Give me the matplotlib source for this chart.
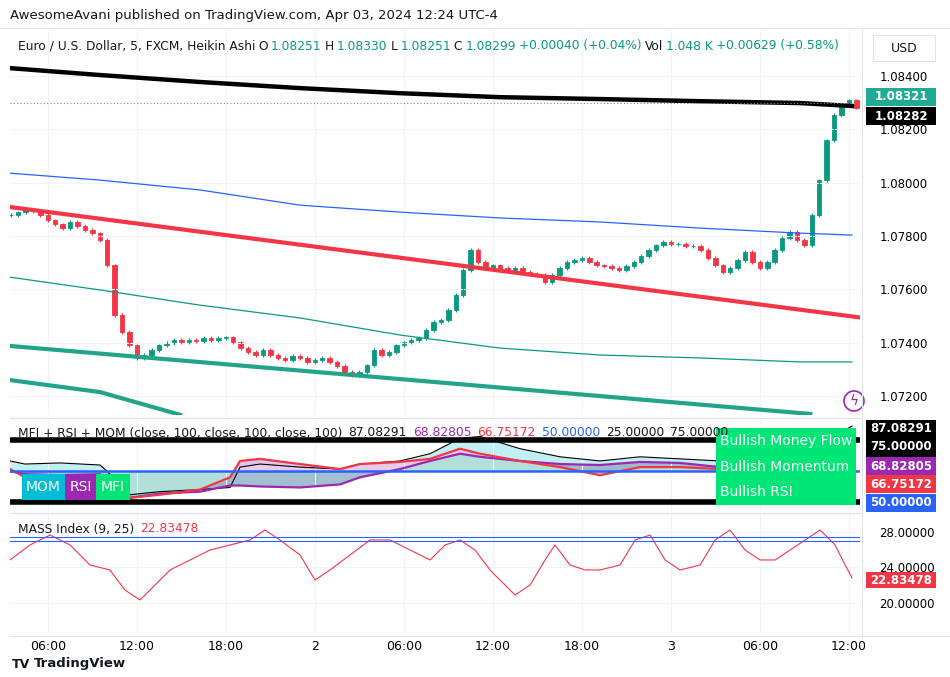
import matplotlib.pyplot as plt
import numpy as np
from matplotlib.patches import Rectangle, Circle

# ---- data (hours since Apr 1 00:00) ----
t0 = 3.5
closes = [1.07879, 1.0789, 1.07898, 1.07894, 1.07879, 1.0786, 1.07845, 1.0783, 1.07853, 1.07838,
          1.07823, 1.07811, 1.07785, 1.07691, 1.07504, 1.0744, 1.07391, 1.07343, 1.07354, 1.07373,
          1.07391, 1.07399, 1.0741, 1.07402, 1.0741, 1.07406, 1.07418, 1.0741, 1.07418, 1.07421,
          1.07402, 1.0738, 1.07365, 1.07354, 1.07373, 1.07354, 1.07343, 1.07335, 1.0735, 1.07343,
          1.07328, 1.07335, 1.07343, 1.07328, 1.07313, 1.0729, 1.07279, 1.0729, 1.07316, 1.07373,
          1.07354, 1.07365, 1.07391, 1.07402, 1.0741, 1.07418, 1.07448, 1.07478, 1.07485, 1.07523,
          1.07579, 1.07673, 1.07748, 1.07703, 1.0768, 1.07691, 1.0768, 1.07673, 1.0768, 1.07665,
          1.07658, 1.07654, 1.07628, 1.07654, 1.0768, 1.07703, 1.0771, 1.07718, 1.07703, 1.07691,
          1.07688, 1.0768, 1.07673, 1.07688, 1.07703, 1.07725, 1.07748, 1.07766, 1.07778, 1.0777,
          1.0777, 1.07763, 1.07763, 1.07748, 1.07718, 1.07691, 1.07665, 1.0768, 1.0771, 1.0774,
          1.07703, 1.0768, 1.07703, 1.07748, 1.07793, 1.07815, 1.07785, 1.07766, 1.07879, 1.0801,
          1.0816, 1.08254, 1.08291, 1.0831, 1.08282]

ma_t = [3.45, 9.52, 16.26, 23.0, 29.74, 36.48, 43.22, 49.97, 56.71, 60.21]
ma_black = [1.0843, 1.08404, 1.08378, 1.08355, 1.08336, 1.08321, 1.08314, 1.08306, 1.08299, 1.08288]
ma_blue = [1.08036, 1.0801, 1.07973, 1.07916, 1.0789, 1.07868, 1.07853, 1.0783, 1.07811, 1.07804]
ma_green = [1.07646, 1.07598, 1.07541, 1.07493, 1.07429, 1.0738, 1.07354, 1.07343, 1.07328, 1.07328]
red_chan_t = [3.45, 61.0]
red_chan = [1.07909, 1.07493]
teal_chan_t = [3.45, 57.4]
teal_chan = [1.07388, 1.07133]
teal_curve_t = [3.45, 9.52, 14.9]
teal_curve = [1.0726, 1.07215, 1.0713]

ind_t = [3.45, 4.46, 6.82, 9.52, 9.99, 11.54, 13.56, 16.26, 18.28, 18.96, 20.3, 23.0, 25.7, 27.05,
         29.74, 31.76, 33.79, 35.13, 37.83, 40.53, 43.22, 45.92, 48.62, 51.31, 54.01, 56.71, 60.21]
mfi = [58.3, 55.8, 56.7, 55, 50, 30.8, 33.3, 35, 36.7, 53.3, 55.8, 53.3, 51.7, 55.8, 58.3, 64.2,
       76.7, 78.3, 68.3, 61.7, 58.3, 61.7, 60, 58.3, 60, 64.0, 86.7]
rsi = [51.7, 45, 43.3, 43.3, 41.7, 28.3, 30.8, 35, 45, 58.3, 60, 55.8, 51.7, 55.8, 57.5, 60, 68.3,
       64.2, 58.3, 53.3, 46.7, 53.3, 53.3, 51.7, 51.7, 55, 66.7]
mom = [50, 47.5, 46.7, 47.5, 43.3, 28.3, 31.7, 33.3, 38.3, 38.3, 37.5, 36.7, 39.2, 45, 51.7, 58.3,
       64.2, 61.7, 58.3, 55.8, 55, 57.5, 56.7, 53.3, 53.3, 56.7, 68.8]

mass_t = [3.45, 4.8, 6.15, 7.5, 8.84, 10.19, 11.2, 12.21, 12.89, 14.24, 15.59, 16.93, 18.28, 19.63,
          20.64, 21.65, 23.0, 24.01, 25.02, 26.37, 27.72, 29.07, 30.42, 31.77, 32.78, 33.79, 34.8,
          35.81, 36.82, 37.5, 38.51, 39.52, 40.19, 41.2, 42.22, 43.23, 44.57, 45.59, 46.6, 47.61,
          48.62, 49.97, 50.98, 51.99, 53.0, 54.01, 55.03, 56.04, 57.05, 58.06, 59.07, 59.75, 60.21]
mass = [24.85, 26.54, 27.66, 26.54, 24.28, 23.72, 21.46, 20.34, 21.46, 23.72, 24.85, 25.97, 26.54,
        27.10, 28.23, 27.10, 25.41, 22.59, 23.72, 25.41, 27.10, 27.10, 25.97, 24.85, 26.54, 27.10,
        25.97, 23.72, 22.03, 20.90, 22.03, 24.85, 26.54, 24.28, 23.72, 23.72, 24.28, 27.10, 27.66,
        24.85, 23.72, 24.28, 27.10, 28.23, 25.97, 24.85, 24.85, 25.97, 27.10, 28.23, 26.54, 24.28, 22.83]

tick_hours = [6, 12, 18, 24, 30, 36, 42, 48, 54, 60]
tick_labels = ["06:00", "12:00", "18:00", "2", "06:00", "12:00", "18:00", "3", "06:00", "12:00"]
price_ticks = [1.072, 1.074, 1.076, 1.078, 1.080, 1.082, 1.084]

UP, DN = "#089981", "#f23645"
GRID = "#f0f3fa"
W, H = 950, 677

fig = plt.figure(figsize=(9.5, 6.77), dpi=100)
fig.patch.set_facecolor("white")


def rect(x0, y0, x1, y1):
    return [x0 / W, 1 - y1 / H, (x1 - x0) / W, (y1 - y0) / H]


ax1 = fig.add_axes(rect(10, 30, 860, 415))
ax2 = fig.add_axes(rect(10, 420, 860, 512), sharex=ax1)
ax3 = fig.add_axes(rect(10, 514, 860, 632), sharex=ax1)
for ax in (ax1, ax2, ax3):
    for s in ax.spines.values():
        s.set_visible(False)
    ax.set_xticks(tick_hours)
    ax.grid(True, color=GRID, lw=0.8)
    ax.tick_params(length=0, labelbottom=False, labelleft=False, labelright=True,
                   labelsize=8.5, pad=14)
    ax.yaxis.tick_right()
ax1.set_xlim(3.45, 60.75)
ax3.tick_params(labelbottom=True)
ax3.set_xticklabels(tick_labels)
ax3.tick_params(axis="x", pad=6, labelsize=9)

# ---- main panel ----
c = np.array(closes)
tt = t0 + 0.5 * np.arange(len(c))
o = np.r_[c[0], c[:-1]]
cols = [UP if cc >= oo else DN for cc, oo in zip(c, o)]
ax1.vlines(tt, np.minimum(o, c) - 0.00006, np.maximum(o, c) + 0.00006, color=cols, lw=0.8)
ax1.bar(tt, c - o, bottom=o, width=0.3, color=cols, edgecolor=cols, lw=0.6)
ax1.plot(ma_t, ma_black, color="black", lw=3.2)
ax1.plot(ma_t, ma_blue, color="#2962ff", lw=0.9)
ax1.plot(ma_t, ma_green, color="#089981", lw=0.9)
ax1.plot(red_chan_t, red_chan, color="#f23645", lw=3)
ax1.plot(teal_chan_t, teal_chan, color="#22a38a", lw=3)
ax1.plot(teal_curve_t, teal_curve, color="#22a38a", lw=3)
ax1.axhline(1.08299, color="#888888", lw=0.8, ls=(0, (1, 2)))
ax1.set_ylim(1.07129, 1.08573)
ax1.set_yticks(price_ticks)
ax1.set_yticklabels([f"{p:.5f}" for p in price_ticks])

# ---- MFI/RSI/MOM panel ----
ax2.set_ylim(16.7, 91.7)
ax2.set_yticks([])
ax2.fill_between(ind_t, mfi, rsi, color="#b2ebf2", alpha=0.8, lw=0)
ax2.fill_between(ind_t, rsi, mom, color="#e1bee7", alpha=0.8, lw=0)
ax2.fill_between(ind_t, mom, 50, color="#26a69a", alpha=0.35, lw=0)
ax2.plot(ind_t, mfi, color="black", lw=0.8)
ax2.plot(ind_t, mom, color="#9c27b0", lw=1.6)
ax2.plot(ind_t, rsi, color="#f23645", lw=1.6)
ax2.axhline(75, color="black", lw=4)
ax2.axhline(25, color="black", lw=4)
ax2.axhline(50, color="#2962ff", lw=1.8)

# ---- MASS panel ----
ax3.set_ylim(16.73, 30.03)
ax3.set_yticks([20, 24, 28])
ax3.set_yticklabels(["20.00000", "24.00000", "28.00000"])
ax3.plot(mass_t, mass, color="#f23645", lw=0.8)
ax3.axhline(27.4, color="#2962ff", lw=0.8)
ax3.axhline(27.0, color="#2962ff", lw=0.8)

# ---- overlays in pixel coords ----
ov = fig.add_axes([0, 0, 1, 1], zorder=10)
ov.set_xlim(0, W)
ov.set_ylim(H, 0)
ov.axis("off")
ov.plot([0, W], [28, 28], color="#e0e3eb", lw=0.8)
ov.plot([862, 862], [28, 636], color="#e0e3eb", lw=0.8)
ov.plot([10, 862], [418, 418], color="#e0e3eb", lw=1)
ov.plot([10, 862], [513, 513], color="#e0e3eb", lw=1)
ov.plot([10, 950], [636, 636], color="#e0e3eb", lw=0.8)

ov.text(10, 16, "AwesomeAvani published on TradingView.com, Apr 03, 2024 12:24 UTC-4",
        fontsize=9.5, va="center", color="#131722")
ov.add_patch(Rectangle((873, 35), 62, 26, fc="white", ec="#e0e3eb", lw=0.8))
ov.text(904, 48, "USD", fontsize=9, ha="center", va="center", color="#131722")

rend = fig.canvas.get_renderer()


def seq_text(x, y, parts, size=8.8, gap=6):
    for s, col in parts:
        t = ov.text(x, y, s, fontsize=size, color=col, va="center")
        bb = t.get_window_extent(rend)
        x += bb.width + gap


G = "#089981"
seq_text(18, 46, [("Euro / U.S. Dollar, 5, FXCM, Heikin Ashi", "#131722"), ("O", "#131722"),
                  ("1.08251", G), ("H", "#131722"), ("1.08330", G), ("L", "#131722"), ("1.08251", G),
                  ("C", "#131722"), ("1.08299", G), ("+0.00040 (+0.04%)", G), ("Vol", "#131722"),
                  ("1.048 K", G), ("+0.00629 (+0.58%)", G)], gap=3)
seq_text(18, 433, [("MFI + RSI + MOM (close, 100, close, 100, close, 100)", "#131722"),
                   ("87.08291", "#131722"), ("68.82805", "#9c27b0"), ("66.75172", "#f23645"),
                   ("50.00000", "#2962ff"), ("25.00000", "#131722"), ("75.00000", "#131722")])
seq_text(18, 529, [("MASS Index (9, 25)", "#131722"), ("22.83478", "#f23645")])


def tag(y, s, fc, h=18):
    ov.add_patch(Rectangle((866, y - h / 2), 70, h, fc=fc, ec="none"))
    ov.text(901, y, s, fontsize=8.5, color="white", ha="center", va="center", weight="bold")


tag(97, "1.08321", "#22ab94")
tag(116, "1.08282", "black")
ov.add_patch(Rectangle((866, 420), 70, 37, fc="black", ec="none"))
ov.text(901, 429, "87.08291", fontsize=8.5, color="white", ha="center", va="center", weight="bold")
ov.text(901, 447, "75.00000", fontsize=8.5, color="white", ha="center", va="center", weight="bold")
tag(466, "68.82805", "#9c27b0")
tag(484, "66.75172", "#f23645")
tag(503, "50.00000", "#2962ff")
tag(580, "22.83478", "#f23645", h=16)

# status boxes
ov.add_patch(Rectangle((716, 428), 140, 77, fc="#00e676", ec="none"))
for yy, s in [(441, "Bullish Money Flow"), (467, "Bullish Momentum"), (492, "Bullish RSI")]:
    ov.text(720, yy, s, fontsize=10, color="white", va="center")
for x0, x1, fc, s in [(22, 65, "#00bcd4", "MOM"), (65, 96, "#9c27b0", "RSI"), (96, 130, "#00e676", "MFI")]:
    ov.add_patch(Rectangle((x0, 474), x1 - x0, 26, fc=fc, ec="none"))
    ov.text((x0 + x1) / 2, 487, s, fontsize=10, color="white", ha="center", va="center")

ov.add_patch(Circle((854, 401), 10, fc="white", ec="#9c27b0", lw=1.2))
ov.text(854, 401, "ϟ", fontsize=10, color="#9c27b0", ha="center", va="center")
ov.text(12, 664, "TV", fontsize=9, weight="bold", color="#131722", va="center")
ov.text(34, 664, "TradingView", fontsize=9.5, weight="bold", color="#131722", va="center")

fig.savefig("out.png", dpi=100)
